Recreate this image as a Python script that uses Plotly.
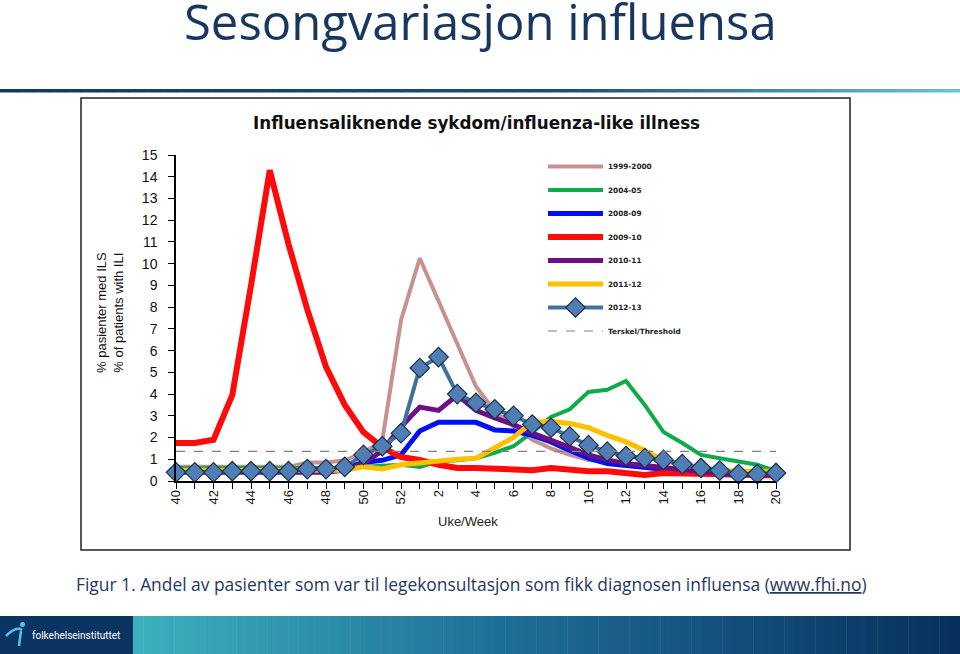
import plotly.graph_objects as go

# ---------------- data ----------------
weeks = [str(w) for w in list(range(40, 53)) + list(range(1, 21))]

s_1999_2000 = [0.65, 0.65, 0.65, 0.65, 0.65, 0.65, 0.65, 0.85, 0.85, 0.95, 1.3, 1.85, 7.4, 10.25, 8.3, 6.3,
               4.35, 3.2, 2.5, 1.9, 1.5, 1.2, 0.97, 0.85, 0.75, 0.65, 0.55, 0.5, 0.45, 0.4, 0.35, 0.35, 0.35]
s_2004_05 = [0.6, 0.6, 0.6, 0.6, 0.6, 0.6, 0.6, 0.6, 0.6, 0.6, 0.65, 0.7, 0.75, 0.65, 0.9, 0.95,
             1.05, 1.3, 1.6, 2.25, 2.95, 3.3, 4.1, 4.2, 4.6, 3.5, 2.25, 1.75, 1.2, 1.05, 0.9, 0.75, 0.45]
s_2008_09 = [0.45, 0.45, 0.45, 0.45, 0.45, 0.45, 0.45, 0.45, 0.45, 0.6, 0.85, 0.95, 1.2, 2.3, 2.7, 2.7,
             2.7, 2.35, 2.3, 2.1, 1.8, 1.4, 1.05, 0.8, 0.7, 0.6, 0.5, 0.45, 0.4, 0.35, 0.3, 0.3, 0.3]
s_2009_10 = [1.75, 1.75, 1.9, 3.95, 9.0, 14.3, 10.9, 7.9, 5.25, 3.5, 2.25, 1.55, 1.1, 0.97, 0.75, 0.6,
             0.6, 0.55, 0.5, 0.5, 0.6, 0.5, 0.45, 0.45, 0.37, 0.28, 0.37, 0.35, 0.3, 0.3, 0.25, 0.25, 0.25]
s_2010_11 = [0.4, 0.4, 0.4, 0.4, 0.4, 0.4, 0.4, 0.4, 0.4, 0.5, 0.8, 1.4, 2.5, 3.4, 3.25, 3.95,
             3.25, 2.9, 2.6, 2.2, 1.9, 1.55, 1.2, 0.97, 0.8, 0.7, 0.6, 0.5, 0.4, 0.35, 0.3, 0.3, 0.3]
s_2011_12 = [0.5, 0.5, 0.5, 0.5, 0.5, 0.5, 0.5, 0.5, 0.5, 0.5, 0.65, 0.55, 0.75, 0.85, 0.95, 1.0,
             1.05, 1.5, 2.0, 2.7, 2.75, 2.65, 2.45, 2.1, 1.8, 1.4, 0.95, 0.75, 0.6, 0.5, 0.45, 0.45, 0.45]
s_2012_13 = [0.4, 0.4, 0.4, 0.45, 0.45, 0.45, 0.45, 0.55, 0.55, 0.65, 1.2, 1.6, 2.2, 5.2, 5.7, 4.0,
             3.6, 3.3, 3.0, 2.6, 2.45, 2.05, 1.65, 1.35, 1.15, 1.05, 0.97, 0.78, 0.6, 0.48, 0.32, 0.32, 0.37]
threshold_value = 1.36

season_names = ["1999-2000", "2004-05", "2008-09", "2009-10", "2010-11", "2011-12", "2012-13"]
threshold_name = "Terskel/Threshold"
y_tick_values = list(range(0, 16))
x_tick_labels = [w if i % 2 == 0 else "" for i, w in enumerate(weeks)]

# ---------------- geometry helpers (pixel -> paper) ----------------
W, H = 960, 654
L, R, T, B = 176, 776, 155, 481   # plot area in pixels


def px(x):
    return (x - L) / (R - L)


def py(y):
    return (B - y) / (B - T)


def lerp(c1, c2, t):
    return tuple(int(round(a + (b - a) * t)) for a, b in zip(c1, c2))


fig = go.Figure()

styles = [
    dict(color="#C99090", width=4),
    dict(color="#0FAA4A", width=4),
    dict(color="#0010F0", width=5),
    dict(color="#FF0A0A", width=6),
    dict(color="#6A0F88", width=5),
    dict(color="#FFC000", width=5),
]
series = [s_1999_2000, s_2004_05, s_2008_09, s_2009_10, s_2010_11, s_2011_12]
for i, (name, vals, st) in enumerate(zip(season_names[:6], series, styles)):
    fig.add_trace(go.Scatter(
        x=weeks, y=vals, name="<b>%s</b>" % name, mode="lines", line=st,
        legendgroup=f"g{i}", cliponaxis=False))

fig.add_trace(go.Scatter(
    x=weeks, y=s_2012_13, name="<b>%s</b>" % season_names[6], mode="lines+markers",
    line=dict(color="#41709F", width=4),
    marker=dict(symbol="diamond", size=15, color="#4F7EB5",
                line=dict(color="#1B2F4F", width=1.2)),
    legendgroup="g6", cliponaxis=False))

fig.add_trace(go.Scatter(
    x=[weeks[0], weeks[-1]], y=[threshold_value, threshold_value], name="<b>%s</b>" % threshold_name,
    mode="lines", line=dict(color="#808080", width=1.2, dash="dash"),
    legendgroup="g7"))

shapes = []
# chart image frame
shapes.append(dict(type="rect", xref="paper", yref="paper",
                   x0=px(81), x1=px(850), y0=py(98), y1=py(550),
                   line=dict(color="#222222", width=1.5), fillcolor="white", layer="below"))

# top gradient rule
n = 60
c_a, c_b, c_c = (18, 55, 100), (28, 78, 125), (105, 195, 212)
for k in range(n):
    x0 = W * k / n
    x1 = W * (k + 1) / n + 0.5
    t = k / (n - 1)
    c = lerp(c_a, c_b, t / 0.6) if t < 0.6 else lerp(c_b, c_c, (t - 0.6) / 0.4)
    shapes.append(dict(type="rect", xref="paper", yref="paper",
                       x0=px(x0), x1=px(x1), y0=py(89), y1=py(92.5),
                       line=dict(width=0), fillcolor="rgb(%d,%d,%d)" % c, layer="below"))

# footer band
shapes.append(dict(type="rect", xref="paper", yref="paper",
                   x0=px(0), x1=px(133), y0=py(616), y1=py(654),
                   line=dict(width=0), fillcolor="rgb(12,52,98)", layer="below"))
f_a, f_b, f_c = (60, 176, 188), (30, 110, 150), (8, 48, 94)
n2 = 80
for k in range(n2):
    x0 = 133 + (W - 133) * k / n2
    x1 = 133 + (W - 133) * (k + 1) / n2 + 0.5
    t = k / (n2 - 1)
    c = lerp(f_a, f_b, t / 0.45) if t < 0.45 else lerp(f_b, f_c, (t - 0.45) / 0.55)
    shapes.append(dict(type="rect", xref="paper", yref="paper",
                       x0=px(x0), x1=px(x1), y0=py(616), y1=py(654),
                       line=dict(width=0), fillcolor="rgb(%d,%d,%d)" % c, layer="below"))
# small logo figure
shapes.append(dict(type="circle", xref="paper", yref="paper",
                   x0=px(20), x1=px(25), y0=py(622), y1=py(627),
                   line=dict(width=0), fillcolor="#4FC3E8"))
shapes.append(dict(type="path", xref="paper", yref="paper",
                   path="M %f,%f Q %f,%f %f,%f" % (px(6), py(636), px(16), py(626), px(22), py(630)),
                   line=dict(color="#4FC3E8", width=2.5)))
shapes.append(dict(type="path", xref="paper", yref="paper",
                   path="M %f,%f L %f,%f" % (px(21), py(631), px(19), py(646)),
                   line=dict(color="#4FC3E8", width=2.5)))

annotations = [
    dict(text="Sesongvariasjon influensa", x=px(480), y=py(21), xref="paper", yref="paper",
         showarrow=False, xanchor="center", yanchor="middle",
         font=dict(family="Open Sans", size=49, color="#17375E")),
    dict(text="<b>Influensaliknende sykdom/influenza-like illness</b>", x=px(476), y=py(123),
         xref="paper", yref="paper", showarrow=False, xanchor="center", yanchor="middle",
         font=dict(family="DejaVu Sans", size=16.8, color="#111111")),
    dict(text="% pasienter med ILS<br>% of patients with ILI", x=px(110), y=py(313),
         xref="paper", yref="paper", showarrow=False, xanchor="center", yanchor="middle",
         textangle=-90, font=dict(family="Liberation Sans Narrow, Arial", size=13, color="#111111")),
    dict(text="Uke/Week", x=px(468), y=py(521), xref="paper", yref="paper", showarrow=False,
         xanchor="center", yanchor="middle",
         font=dict(family="Liberation Sans, Arial", size=13, color="#222222")),
    dict(text="Figur 1. Andel av pasienter som var til legekonsultasjon som fikk diagnosen influensa "
              "(<u>www.fhi.no</u>)",
         x=px(471), y=py(584), xref="paper", yref="paper", showarrow=False,
         xanchor="center", yanchor="middle",
         font=dict(family="Open Sans", size=17.4, color="#1F3864")),
    dict(text="folkehelseinstituttet", x=px(30), y=py(635), xref="paper", yref="paper",
         showarrow=False, xanchor="left", yanchor="middle",
         font=dict(family="Roboto", size=10, color="white")),
]

fig.update_layout(
    width=W, height=H,
    margin=dict(l=L, r=W - R, t=T, b=H - B, pad=0),
    paper_bgcolor="white", plot_bgcolor="white",
    shapes=shapes, annotations=annotations,
    showlegend=True,
    legend=dict(x=px(543), y=py(152), xanchor="left", yanchor="top",
                bgcolor="rgba(0,0,0,0)", borderwidth=0, itemwidth=55,
                tracegroupgap=4.5,
                font=dict(family="DejaVu Sans", size=7.3, color="#222222")),
    xaxis=dict(type="category", range=[0, 32], tickmode="array", tickvals=weeks,
               ticktext=x_tick_labels, tickangle=-90, ticks="outside", ticklen=6,
               tickcolor="black", tickwidth=1.3, showline=True, linecolor="black", linewidth=1.5,
               showgrid=False, zeroline=False, ticklabelstandoff=-4,
               tickfont=dict(family="Liberation Sans, Arial", size=13, color="#111111")),
    yaxis=dict(range=[0, 15], tickmode="array", tickvals=y_tick_values, ticks="outside", ticklen=6,
               tickcolor="black", tickwidth=1.3, showline=True, linecolor="black", linewidth=1.5,
               showgrid=False, zeroline=False, ticklabelstandoff=8,
               tickfont=dict(family="Liberation Sans, Arial", size=14, color="#111111")),
)

fig.write_html("out.html", config={"displayModeBar": False},
               post_script="document.body.style.margin='0';document.body.style.overflow='hidden';")
